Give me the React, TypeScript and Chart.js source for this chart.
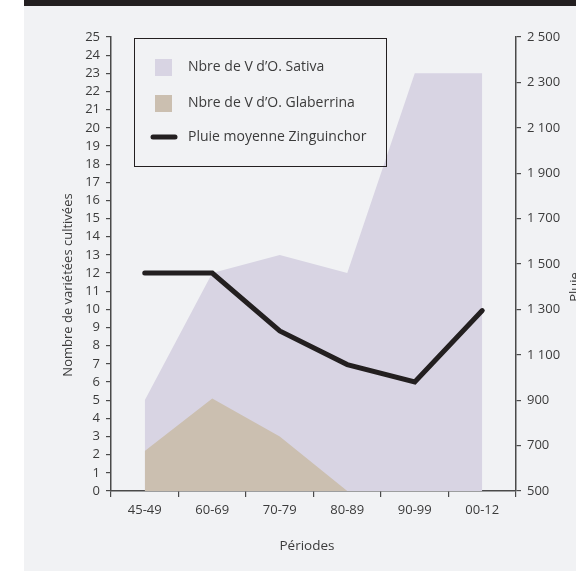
import React, { useEffect, useRef } from "react";
import { Chart, registerables } from "chart.js";

Chart.register(...registerables);

const periods = ["45-49", "60-69", "70-79", "80-89", "90-99", "00-12"];
const sativa = [5, 12, 13, 12, 23, 23];
const glaberrina = [2.2, 5.1, 3, 0, 0, 0];
const pluie = [1460, 1460, 1205, 1057, 980, 1295];

const legendLabels = [
  "Nbre de V d\u2019O. Sativa",
  "Nbre de V d\u2019O. Glaberrina",
  "Pluie moyenne Zinguinchor",
];
const leftTitle = "Nombre de variétées cultivées";
const rightTitle = "Pluie";
const xTitle = "Périodes";

const SATIVA_COLOR = "#d8d4e3";
const GLAB_COLOR = "#cbbfb0";
const LINE_COLOR = "#231f20";
const TEXT_COLOR = "#3b3b3b";
const AXIS_COLOR = "#4a4a4a";
const FONT = "'Open Sans', sans-serif";

const fmtRain = (v: number) => {
  if (v >= 1000) {
    const t = Math.floor(v / 1000);
    const r = String(v % 1000).padStart(3, "0");
    return `${t} ${r}`;
  }
  return String(v);
};

const decorPlugin = {
  id: "decor",
  afterDraw(chart: any) {
    const ctx = chart.ctx as CanvasRenderingContext2D;
    ctx.save();
    // legend box
    ctx.strokeStyle = LINE_COLOR;
    ctx.lineWidth = 1;
    ctx.strokeRect(134.5, 38.5, 252, 128);
    ctx.fillStyle = SATIVA_COLOR;
    ctx.fillRect(155, 59, 17, 17);
    ctx.fillStyle = GLAB_COLOR;
    ctx.fillRect(155, 95, 17, 17);
    ctx.strokeStyle = LINE_COLOR;
    ctx.lineWidth = 5;
    ctx.lineCap = "round";
    ctx.beginPath();
    ctx.moveTo(153, 137);
    ctx.lineTo(175, 137);
    ctx.stroke();
    ctx.fillStyle = TEXT_COLOR;
    ctx.font = `14px ${FONT}`;
    ctx.textBaseline = "middle";
    ctx.textAlign = "left";
    ctx.fillText(legendLabels[0], 188, 67.5);
    ctx.fillText(legendLabels[1], 188, 103.5);
    ctx.fillText(legendLabels[2], 188, 137.5);

    // x title
    ctx.font = `13.5px ${FONT}`;
    ctx.textAlign = "center";
    ctx.fillText(xTitle, 307, 546);

    // left title
    ctx.font = `13px ${FONT}`;
    ctx.save();
    ctx.translate(68, 285);
    ctx.rotate(-Math.PI / 2);
    ctx.textBaseline = "middle";
    ctx.fillText(leftTitle, 0, 0);
    ctx.restore();

    // right title (clipped by canvas edge)
    ctx.save();
    ctx.translate(578.5, 287);
    ctx.rotate(-Math.PI / 2);
    ctx.textBaseline = "alphabetic";
    ctx.fillText(rightTitle, 0, 0);
    ctx.restore();
    ctx.restore();
  },
};

export default function App() {
  const ref = useRef<HTMLCanvasElement | null>(null);

  useEffect(() => {
    const canvas = ref.current;
    if (!canvas) return;
    const tickFont = { family: FONT, size: 13 };
    const chart = new Chart(canvas, {
      type: "line",
      data: {
        labels: periods,
        datasets: [
          {
            label: legendLabels[2],
            data: pluie,
            yAxisID: "y2",
            borderColor: LINE_COLOR,
            borderWidth: 5,
            borderCapStyle: "round",
            borderJoinStyle: "miter",
            pointRadius: 0,
            fill: false,
            tension: 0,
            order: 0,
          },
          {
            label: legendLabels[1],
            data: glaberrina,
            yAxisID: "y",
            backgroundColor: GLAB_COLOR,
            borderWidth: 0,
            pointRadius: 0,
            fill: "origin",
            tension: 0,
            order: 1,
          },
          {
            label: legendLabels[0],
            data: sativa,
            yAxisID: "y",
            backgroundColor: SATIVA_COLOR,
            borderWidth: 0,
            pointRadius: 0,
            fill: "origin",
            tension: 0,
            order: 2,
          },
        ],
      },
      options: {
        animation: false,
        responsive: false,
        maintainAspectRatio: false,
        devicePixelRatio: 1,
        layout: { padding: { left: 0, right: 0, top: 37, bottom: 0 } },
        plugins: {
          legend: { display: false },
          tooltip: { enabled: false },
          title: { display: false },
        },
        scales: {
          x: {
            type: "category",
            offset: true,
            grid: {
              offset: true,
              drawOnChartArea: false,
              drawTicks: true,
              tickLength: 6,
              color: AXIS_COLOR,
              lineWidth: 1.2,
            },
            border: { display: true, color: AXIS_COLOR, width: 1.5 },
            ticks: {
              color: TEXT_COLOR,
              font: tickFont,
              padding: 5,
              maxRotation: 0,
              autoSkip: false,
            },
            afterFit: (s: any) => {
              s.height = 80;
            },
          },
          y: {
            type: "linear",
            position: "left",
            min: 0,
            max: 25,
            grid: {
              drawOnChartArea: false,
              drawTicks: true,
              tickLength: 5,
              color: AXIS_COLOR,
              lineWidth: 1.2,
            },
            border: { display: true, color: AXIS_COLOR, width: 1.5 },
            ticks: {
              stepSize: 1,
              autoSkip: false,
              color: TEXT_COLOR,
              font: tickFont,
              padding: 6,
            },
            afterFit: (s: any) => {
              s.width = 111;
            },
          },
          y2: {
            type: "linear",
            position: "right",
            min: 500,
            max: 2500,
            grid: {
              drawOnChartArea: false,
              drawTicks: true,
              tickLength: 5,
              color: AXIS_COLOR,
              lineWidth: 1.2,
            },
            border: { display: true, color: AXIS_COLOR, width: 1.5 },
            ticks: {
              stepSize: 200,
              autoSkip: false,
              color: TEXT_COLOR,
              font: tickFont,
              padding: 6,
              callback: (v: any) => fmtRain(Number(v)),
            },
            afterFit: (s: any) => {
              s.width = 60;
            },
          },
        },
      },
      plugins: [decorPlugin],
    });
    return () => chart.destroy();
  }, []);

  return (
    <div
      style={{
        position: "fixed",
        left: 0,
        top: 0,
        width: 576,
        height: 571,
        background: "#ffffff",
        overflow: "hidden",
      }}
    >
      <div
        style={{
          position: "absolute",
          left: 24,
          top: 0,
          width: 552,
          height: 571,
          background: "#f1f2f4",
        }}
      />
      <div
        style={{
          position: "absolute",
          left: 24,
          top: 0,
          width: 552,
          height: 6,
          background: "#231f20",
        }}
      />
      <canvas
        ref={ref}
        width={576}
        height={571}
        style={{ position: "absolute", left: 0, top: 0, width: 576, height: 571 }}
      />
    </div>
  );
}
